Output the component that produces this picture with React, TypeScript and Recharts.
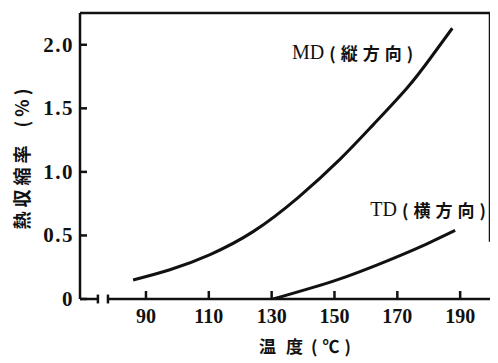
import React from 'react';
import { LineChart, Line, XAxis, YAxis, ReferenceLine, ReferenceDot } from 'recharts';

const mdTemp = [85.9, 97.6, 110.4, 124.1, 138.5, 151.8, 162.3, 173.1, 180.4, 187.5];
const mdValue = [0.15, 0.23, 0.35, 0.53, 0.8, 1.1, 1.37, 1.66, 1.89, 2.13];
const tdTemp = [130.5, 150.8, 166.8, 177.3, 188.4];
const tdValue = [0, 0.15, 0.3, 0.41, 0.54];
const xTicks = [90, 110, 130, 150, 170, 190];
const yTicks = [0, 0.5, 1.0, 1.5, 2.0];
const yTickLabels = ['0', '0.5', '1.0', '1.5', '2.0'];
const mdLabel = 'MD';
const mdLabelCjk = '(縦方向)';
const tdLabel = 'TD';
const tdLabelCjk = '(横方向)';
const yTitle = '熱収縮率';
const yTitleUnit = '(%)';
const xTitle = ['温', '度', '(℃)'];

const mdData = mdTemp.map((t, i) => ({ t, v: mdValue[i] }));
const tdData = tdTemp.map((t, i) => ({ t, v: tdValue[i] }));

const SERIF = '"Liberation Serif", "DejaVu Serif", serif';
const CJK = '"Noto Sans CJK JP", "Noto Sans CJK SC", sans-serif';
const INK = '#111';

const XTick = (props: any) => {
  const { x, y, payload } = props;
  return (
    <g>
      <line x1={x} y1={y} x2={x} y2={y - 8} stroke={INK} strokeWidth={2.5} />
      <text x={x} y={y + 24} textAnchor="middle" fontFamily={SERIF} fontWeight="bold" fontSize={20} fill={INK}>
        {payload.value}
      </text>
    </g>
  );
};

const YTick = (props: any) => {
  const { x, y, payload } = props;
  const idx = yTicks.indexOf(payload.value);
  return (
    <g>
      <line x1={x} y1={y} x2={x + 7} y2={y} stroke={INK} strokeWidth={2.5} />
      <text x={x - 6} y={y + 7} textAnchor="end" fontFamily={SERIF} fontWeight="bold" fontSize={21} letterSpacing={1.5} fill={INK}>
        {idx >= 0 ? yTickLabels[idx] : payload.value}
      </text>
    </g>
  );
};

const annot = (main: string, cjk: string) => (p: any) => {
  const vb = p.viewBox || {};
  return (
    <text x={vb.x} y={vb.y} dominantBaseline="central" fill={INK}>
      <tspan fontFamily={SERIF} fontSize={20}>{main}</tspan>
      <tspan fontFamily={CJK} fontWeight="bold" fontSize={17} letterSpacing={5} dx={5}>{cjk}</tspan>
    </text>
  );
};

const yLabel = (p: any) => {
  const vb = p.viewBox || {};
  const cx = vb.x + 13;
  const cy = vb.y + vb.height / 2 + 1;
  return (
    <text x={cx} y={cy} textAnchor="middle" dominantBaseline="central" transform={`rotate(-90, ${cx}, ${cy})`} fill={INK} fontFamily={CJK} fontWeight="bold" fontSize={18}>
      <tspan letterSpacing={4}>{yTitle}</tspan>
      <tspan dx={14} letterSpacing={4}>{yTitleUnit}</tspan>
    </text>
  );
};

const xLabel = (p: any) => {
  const vb = p.viewBox || {};
  const base = vb.y + 54;
  return (
    <text y={base} fill={INK} fontFamily={CJK} fontWeight="bold" fontSize={17}>
      <tspan x={vb.x + 179}>{xTitle[0]}</tspan>
      <tspan x={vb.x + 206}>{xTitle[1]}</tspan>
      <tspan x={vb.x + 231} letterSpacing={5}>{xTitle[2]}</tspan>
    </text>
  );
};

const lineStyle = { stroke: INK, strokeWidth: 2.5 };

export default function App() {
  return (
    <LineChart width={490} height={355} margin={{ top: 5, right: 8, bottom: 0, left: 0 }}>
      <XAxis
        type="number"
        dataKey="t"
        domain={[69, 199.5]}
        ticks={xTicks}
        axisLine={false}
        tickLine={false}
        tickSize={0}
        tickMargin={0}
        tick={<XTick />}
        height={64}
        interval={0}
        allowDataOverflow
        label={xLabel}
      />
      <YAxis
        type="number"
        domain={[0, 2.25]}
        ticks={yTicks}
        axisLine={{ stroke: INK, strokeWidth: 2.5 }}
        tickLine={false}
        tickSize={0}
        tickMargin={0}
        tick={<YTick />}
        width={72}
        interval={0}
        allowDataOverflow
        label={yLabel}
      />
      <ReferenceLine segment={[{ x: 69, y: 0 }, { x: 74.7, y: 0 }]} {...lineStyle} ifOverflow="visible" />
      <ReferenceLine segment={[{ x: 74.7, y: -0.035 }, { x: 74.7, y: 0.035 }]} {...lineStyle} ifOverflow="visible" />
      <ReferenceLine segment={[{ x: 77.9, y: -0.035 }, { x: 77.9, y: 0.035 }]} {...lineStyle} ifOverflow="visible" />
      <ReferenceLine segment={[{ x: 77.9, y: 0 }, { x: 199.5, y: 0 }]} {...lineStyle} ifOverflow="visible" />
      <ReferenceLine segment={[{ x: 69, y: 2.25 }, { x: 199.5, y: 2.25 }]} {...lineStyle} ifOverflow="visible" />
      <ReferenceLine segment={[{ x: 199.5, y: 0.45 }, { x: 199.5, y: 2.25 }]} {...lineStyle} ifOverflow="visible" />
      <Line data={mdData} dataKey="v" type="natural" stroke={INK} strokeWidth={3} dot={false} isAnimationActive={false} />
      <Line data={tdData} dataKey="v" type="natural" stroke={INK} strokeWidth={3} dot={false} isAnimationActive={false} />
      <ReferenceDot x={136.5} y={1.94} r={0} fill="none" stroke="none" label={annot(mdLabel, mdLabelCjk)} />
      <ReferenceDot x={161.4} y={0.71} r={0} fill="none" stroke="none" label={annot(tdLabel, tdLabelCjk)} />
    </LineChart>
  );
}
